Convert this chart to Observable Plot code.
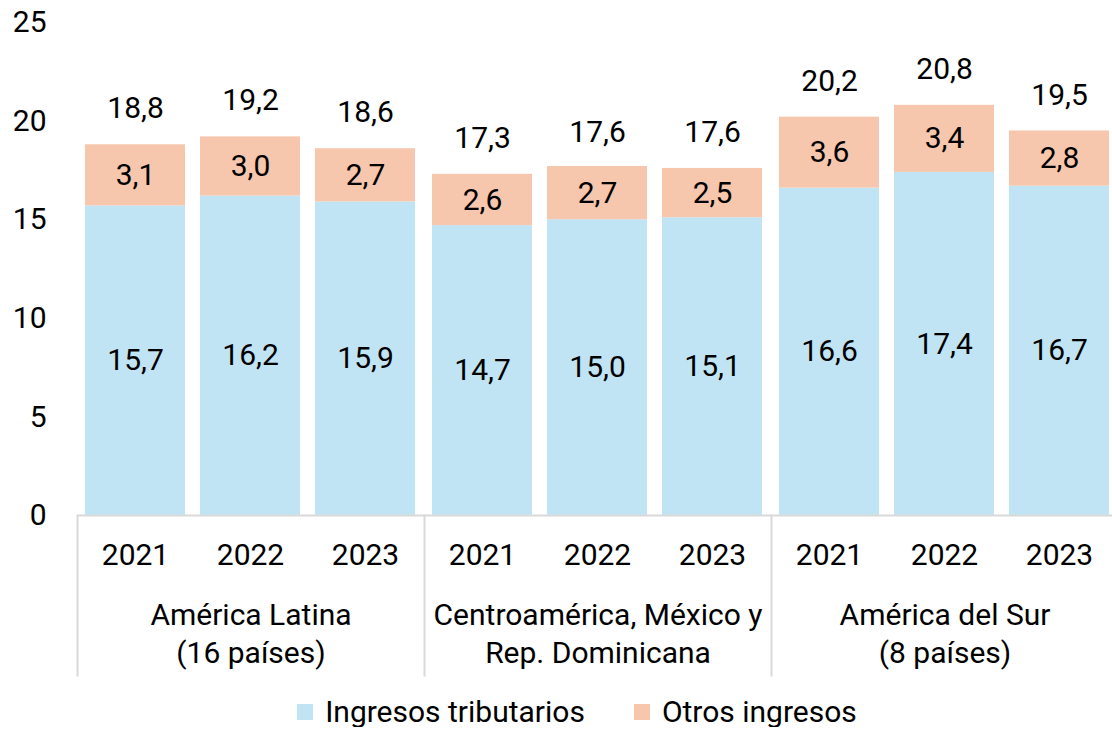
<!DOCTYPE html>
<html><head><meta charset="utf-8">
<script src="https://cdn.jsdelivr.net/npm/d3@7"></script>
<script src="https://cdn.jsdelivr.net/npm/@observablehq/plot@0.6"></script>
<style>
body{margin:0;background:#fff;font-family:Roboto,sans-serif;overflow:hidden;}
#chart svg{display:block;}
#legend{display:flex;justify-content:center;align-items:center;gap:49px;font-size:30px;line-height:30px;color:#000;height:30px;margin-left:42px;margin-top:-3px;}
#legend .item{display:flex;align-items:center;gap:12px;}
#legend .sw{width:16px;height:16px;display:inline-block;}
</style></head><body><div id="chart"></div><div id="legend"></div>
<script>
const groups = ["América Latina\n(16 países)", "Centroamérica, México y\nRep. Dominicana", "América del Sur\n(8 países)"];
const years = ["2021", "2022", "2023"];
const tributarios = [15.7, 16.2, 15.9, 14.7, 15.0, 15.1, 16.6, 17.4, 16.7];
const otros = [3.1, 3.0, 2.7, 2.6, 2.7, 2.5, 3.6, 3.4, 2.8];
const totales = [18.8, 19.2, 18.6, 17.3, 17.6, 17.6, 20.2, 20.8, 19.5];
const seriesNames = ["Ingresos tributarios", "Otros ingresos"];
const colors = ["#C1E4F5", "#F6C6AD"];
const yTicks = [0, 5, 10, 15, 20, 25];

const fmt = v => v.toFixed(1).replace(".", ",");
const rows = tributarios.map((t, i) => ({
  group: groups[Math.floor(i / 3)], year: years[i % 3],
  trib: t, otros: otros[i], total: totales[i]
}));
const long = rows.flatMap(r => [
  {group: r.group, year: r.year, series: seriesNames[0], value: r.trib, mid: r.trib / 2},
  {group: r.group, year: r.year, series: seriesNames[1], value: r.otros, mid: r.trib + r.otros / 2}
]);

const FS = 30;
const plot = Plot.plot({
  width: 1112, height: 700,
  marginTop: 22, marginBottom: 185, marginLeft: 77, marginRight: -6,
  style: {fontFamily: "Roboto, sans-serif", fontSize: FS + "px", color: "#000", background: "#fff", overflow: "hidden"},
  fx: {domain: groups, padding: 0, label: null},
  x: {domain: years, paddingInner: 0.13, paddingOuter: 0.069, label: null},
  y: {domain: [0, 25], label: null},
  color: {domain: seriesNames, range: colors},
  marks: [
    Plot.barY(long, Plot.stackY({fx: "group", x: "year", y: "value", fill: "series", order: seriesNames})),
    Plot.text(long, {fx: "group", x: "year", y: "mid", text: d => fmt(d.value), fontSize: FS, fill: "#000"}),
    Plot.text(rows, {fx: "group", x: "year", y: "total", text: d => fmt(d.total), dy: -36, fontSize: FS, fill: "#000"}),
    Plot.ruleY([0], {stroke: "#d9d9d9", strokeWidth: 2}),
    Plot.frame({anchor: "left", stroke: "#d9d9d9", strokeWidth: 2, insetTop: 493, insetBottom: -160}),
    Plot.axisY({ticks: yTicks, tickSize: 0, tickPadding: 31, label: null, fontSize: FS, tickFormat: d => String(d)}),
    Plot.axisX({tickSize: 0, tickPadding: 28, label: null, fontSize: FS}),
    Plot.axisFx({anchor: "bottom", tickSize: 0, tickPadding: 82, label: null, fontSize: FS, lineHeight: 1.28})
  ]
});
document.getElementById("chart").appendChild(plot);

const legend = document.getElementById("legend");
seriesNames.forEach((name, i) => {
  const item = document.createElement("span");
  item.className = "item";
  const sw = document.createElement("span");
  sw.className = "sw";
  sw.style.background = colors[i];
  const label = document.createElement("span");
  label.textContent = name;
  item.appendChild(sw);
  item.appendChild(label);
  legend.appendChild(item);
});
</script>
</body></html>
